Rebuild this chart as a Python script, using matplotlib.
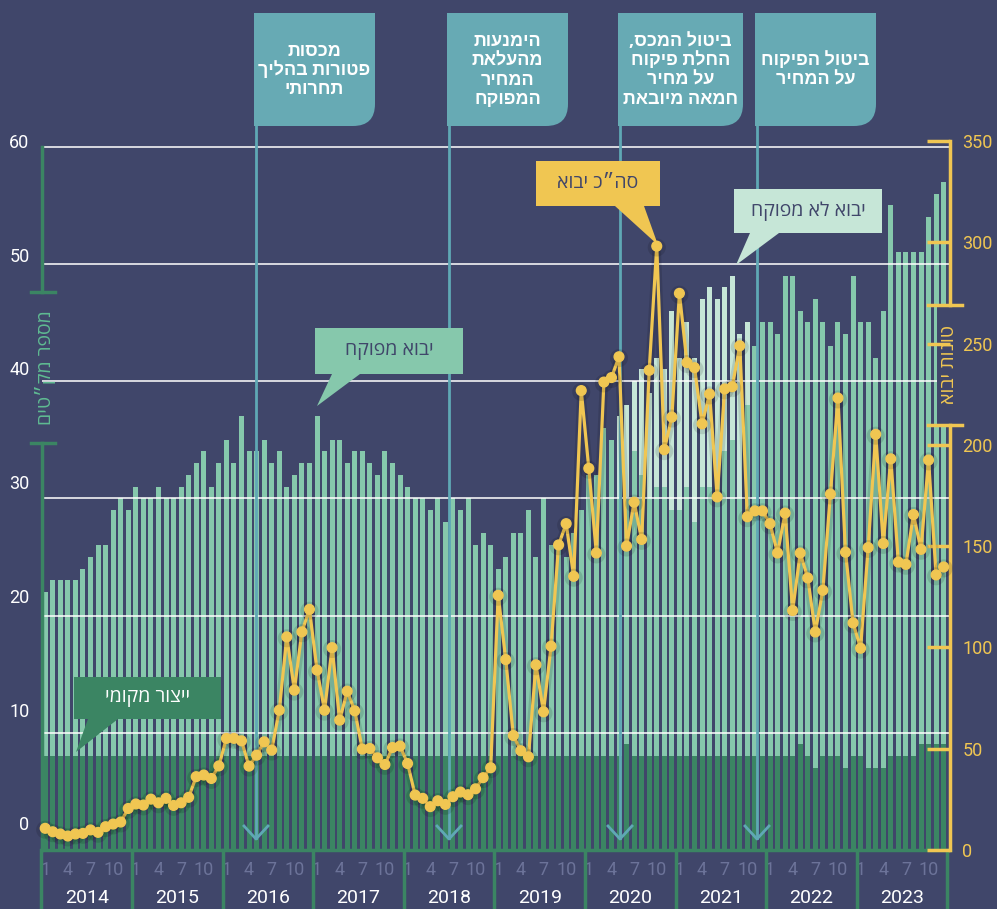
import matplotlib
matplotlib.use("Agg")
import matplotlib.pyplot as plt
import matplotlib.transforms as mtrans
import matplotlib.patheffects as pe
from matplotlib.patches import Polygon, PathPatch, Rectangle
from matplotlib.path import Path

plt.rcParams['font.family'] = ['Open Sans', 'Liberation Sans', 'DejaVu Sans']

# ---- data: monthly, Jan 2014 - Dec 2023 ----
years = [2014, 2015, 2016, 2017, 2018, 2019, 2020, 2021, 2022, 2023]
month_ticks = [1, 4, 7, 10]

# number of SKUs (thousands) - local production
local_skus = ([8] * 72 +
              [8, 8, 8, 8, 8, 9, 8, 8, 8, 8, 8, 8] +
              [8] * 12 +
              [8, 8, 8, 8, 9, 8, 7, 8, 8, 8, 7, 8] +
              [8, 7, 7, 7, 8, 8, 8, 8, 9, 9, 9, 9])

# regulated import SKUs
regulated_skus = [14, 15, 15, 15, 15, 16, 17, 18, 18, 21, 22, 21,
                  23, 22, 22, 23, 22, 22, 23, 24, 25, 26, 23, 25,
                  27, 25, 29, 26, 26, 27, 25, 26, 23, 24, 25, 25,
                  29, 26, 27, 27, 25, 26, 26, 25, 24, 26, 25, 24,
                  23, 22, 22, 21, 22, 20, 22, 21, 22, 18, 19, 18,
                  16, 17, 19, 19, 21, 17, 22, 18, 18, 17, 19, 21,
                  24, 24, 28, 27, 22, 21, 26, 24, 22, 23, 23, 21,
                  21, 23, 20, 23, 23, 24, 26, 27, 22, 30, 35, 37,
                  37, 36, 41, 41, 37, 37, 40, 37, 35, 37, 37, 41,
                  37, 38, 35, 39, 47, 43, 43, 43, 42, 45, 47, 48]

# unregulated import SKUs
unregulated_skus = ([0] * 72 +
                    [0, 0, 0, 0, 7, 8, 6, 9, 9, 11, 10, 17] +
                    [13, 14, 14, 16, 17, 15, 14, 14, 14, 7, 0, 0] +
                    [0] * 24)

# total import, tonnes
import_tons = [10.7, 9.0, 7.9, 6.9, 7.9, 8.2, 9.9, 8.7, 11.5, 12.8, 13.8, 20.5,
               22.7, 22.2, 25.1, 23.3, 25.5, 22.0, 23.3, 26.0, 36.2, 37.0, 35.3, 41.5,
               55.1, 55.1, 53.9, 41.4, 46.8, 53.4, 49.3, 69.0, 105.2, 78.9, 107.7, 118.8,
               88.8, 69.0, 99.9, 64.1, 78.4, 68.7, 49.8, 50.1, 45.5, 42.2, 50.6, 51.3,
               42.7, 27.1, 25.5, 21.4, 24.3, 22.5, 26.3, 28.6, 27.3, 30.2, 35.7, 40.6,
               125.7, 94.0, 56.5, 49.0, 46.0, 91.4, 68.2, 100.6, 150.6, 161.1, 135.1, 226.8,
               188.4, 146.6, 231.0, 233.2, 243.5, 150.0, 171.7, 153.3, 236.8, 298.1, 197.6, 213.7,
               274.8, 240.6, 238.1, 210.4, 225.1, 174.3, 227.6, 228.7, 248.9, 164.5, 167.4, 167.4,
               161.1, 146.6, 166.3, 118.2, 146.6, 134.3, 107.6, 128.2, 175.7, 223.1, 147.0, 112.1,
               99.6, 149.3, 205.2, 151.3, 193.1, 142.1, 141.0, 165.6, 148.4, 192.5, 135.8, 139.7]

events = ["מכסות\nפטורות בהליך\nתחרותי",
          "הימנעות\nמהעלאת\nהמחיר\nהמפוקח",
          "ביטול המכס,\nהחלת פיקוח\nעל מחיר\nחמאה מיובאת",
          "ביטול הפיקוח\nעל המחיר"]

# colours
BG = '#40466a'
DARK = '#3b8563'
MINT = '#86c8ac'
PALE = '#c6e6d7'
YEL = '#f0c652'
TEAL = '#67aab4'
EVL = '#5fa8b5'
MONTH = '#6c7399'


def heb(s):
    # matplotlib has no bidi support: reverse every line for visual order
    return "\n".join(line[::-1] for line in s.split("\n"))


W, H = 997, 909
fig = plt.figure(figsize=(W / 100, H / 100), dpi=100, facecolor=BG)
ax = fig.add_axes([42 / W, (H - 850) / H, 908 / W, 709 / H])
ax.set_facecolor(BG)
n = len(import_tons)
x = list(range(n))
px = 7.55  # pixels per month


def px2x(p):
    return (p - 45.2) / px


ax.set_xlim(px2x(42), px2x(950))
ax.set_ylim(0, 60)

bw = 5 / px
base2 = [a + b for a, b in zip(local_skus, regulated_skus)]
ax.bar(x, local_skus, width=bw, color=DARK, zorder=2)
ax.bar(x, regulated_skus, bottom=local_skus, width=bw, color=MINT, zorder=2)
ax.bar(x, unregulated_skus, bottom=base2, width=bw, color=PALE, zorder=2)

for v in range(10, 61, 10):
    ax.axhline(v, color='white', lw=1.3, alpha=0.85, zorder=2.5)
ax.axhline(0, color=DARK, lw=2.5, zorder=2.6, clip_on=False)

for s in ax.spines.values():
    s.set_visible(False)

# left axis: ticks labels and broken spine
lab_pos = [2.28 + 0.97 * v for v in range(0, 61, 10)]
ax.set_yticks(lab_pos)
ax.set_yticklabels([str(v) for v in range(0, 61, 10)], color='white',
                   fontsize=13, fontfamily='Roboto')
ax.tick_params(axis='y', length=0, pad=9)
tl = mtrans.blended_transform_factory(ax.transAxes, ax.transData)
ax.plot([0, 0], [0, 34.7], color=DARK, lw=2.5, transform=tl, clip_on=False, zorder=3)
ax.plot([0, 0], [47.6, 60], color=DARK, lw=2.5, transform=tl, clip_on=False, zorder=3)
for yv in (34.7, 47.6):
    ax.plot([-11 / 908, 13 / 908], [yv, yv], color=DARK, lw=2.5, transform=tl,
            clip_on=False, zorder=3)
ax.text(0.004, 41.15, heb("מספר מק״טים"), transform=tl, rotation=90, ha='center',
        va='center', color='#5fbb92', fontsize=14)

# x axis: months and years
mt = [i for i in x if (i % 12) + 1 in month_ticks]
ax.set_xticks(mt)
ax.set_xticklabels([str((i % 12) + 1) for i in mt], color=MONTH, fontsize=13,
                   fontfamily='Roboto')
ax.tick_params(axis='x', length=0, pad=8)
tb = mtrans.blended_transform_factory(ax.transData, ax.transAxes)
for k, yr in enumerate(years):
    ax.text(12 * k + 5.5, -0.067, str(yr), transform=tb, ha='center', va='center',
            color='white', fontsize=14, fontfamily='Roboto')
for k in range(len(years) + 1):
    ax.plot([12 * k - 0.5] * 2, [0, -0.083], color=DARK, lw=2.5, transform=tb,
            clip_on=False)

# right axis: tonnes
ax2 = ax.twinx()
ax2.set_ylim(0, 350)
ax2.patch.set_visible(False)
for s in ax2.spines.values():
    s.set_visible(False)
ax2.set_yticks(range(0, 351, 50))
ax2.set_yticklabels([str(v) for v in range(0, 351, 50)], color=YEL, fontsize=13,
                    fontfamily='Roboto')
ax2.tick_params(axis='y', direction='in', length=16.5, width=2.5, color=YEL, pad=9)
tr = mtrans.blended_transform_factory(ax2.transAxes, ax2.transData)
# background patch behind the axis title (hides bars under it)
ax2.add_patch(Rectangle((1 - 13 / 908, 210), 25 / 908, 59, transform=tr,
                        facecolor=BG, edgecolor='none', clip_on=False, zorder=0.5))
ax2.plot([1, 1], [0, 210], color=YEL, lw=2.5, transform=tr, clip_on=False)
ax2.plot([1, 1], [269, 350], color=YEL, lw=2.5, transform=tr, clip_on=False)
for yv in (210, 269):
    ax2.plot([1 - 22 / 908, 1 + 12 / 908], [yv, yv], color=YEL, lw=2.5, transform=tr,
             clip_on=False)
ax2.text(0.999, 239.5, heb("טונות יבוא"), transform=tr, rotation=90, ha='center',
         va='center', color=YEL, fontsize=14)

# event lines
tev = mtrans.blended_transform_factory(ax2.transData, ax2.transAxes)
ev_px = [256, 449, 620, 757]
for p in ev_px:
    xe = px2x(p)
    ax2.plot([xe, xe], [(850 - 838) / 709, (850 - 125) / 709], color=EVL, lw=2,
             transform=tev, clip_on=False, zorder=1)
    ax2.plot([px2x(p - 12), xe, px2x(p + 12)],
             [(850 - 826) / 709, (850 - 839) / 709, (850 - 826) / 709],
             color=EVL, lw=2, transform=tev, clip_on=False, zorder=1)

ax2.plot(x, import_tons, color=YEL, lw=2.3, marker='o', markersize=7,
         zorder=3, clip_on=False,
         path_effects=[pe.SimpleLineShadow(offset=(0, -1), shadow_color='black',
                                           alpha=0.12, linewidth=6),
                       pe.Normal()])

# ---- overlay annotations in pixel coordinates ----
ov = fig.add_axes([0, 0, 1, 1], zorder=10)
ov.set_xlim(0, W)
ov.set_ylim(H, 0)
ov.axis('off')
ov.patch.set_visible(False)

boxes = [(254, 375), (447, 568), (618, 743), (755, 876)]
for (x0, x1), txt in zip(boxes, events):
    y0, y1, r = 13, 126, 22
    verts = [(x0, y0), (x1, y0), (x1, y1 - r), (x1, y1), (x1 - r, y1), (x0, y1), (x0, y0)]
    codes = [Path.MOVETO, Path.LINETO, Path.LINETO, Path.CURVE3, Path.CURVE3,
             Path.LINETO, Path.CLOSEPOLY]
    ov.add_patch(PathPatch(Path(verts, codes), facecolor=TEAL, edgecolor='none'))
    ov.text((x0 + x1) / 2, 70, heb(txt), ha='center', va='center', color='white',
            fontsize=13, fontweight='bold', linespacing=1.1)

bubbles = [
    ("ייצור מקומי", DARK, 'white', (74, 677, 221, 719), (88, 118), (76, 752)),
    ("יבוא מפוקח", MINT, BG, (315, 328, 463, 374), (332, 360), (317, 406)),
    ("סה״כ יבוא", YEL, BG, (536, 161, 660, 206), (615, 644), (658, 245)),
    ("יבוא לא מפוקח", PALE, BG, (734, 189, 882, 233), (750, 779), (736, 265)),
]
for txt, fc, tc, (bx0, by0, bx1, by1), (t0, t1), tip in bubbles:
    poly = [(bx0, by0), (bx1, by0), (bx1, by1), (t1, by1), tip, (t0, by1), (bx0, by1)]
    ov.add_patch(Polygon(poly, closed=True, facecolor=fc, edgecolor='none'))
    ov.text((bx0 + bx1) / 2, (by0 + by1) / 2, heb(txt), ha='center', va='center',
            color=tc, fontsize=14)

fig.savefig("out.png", dpi=100, facecolor=BG)
